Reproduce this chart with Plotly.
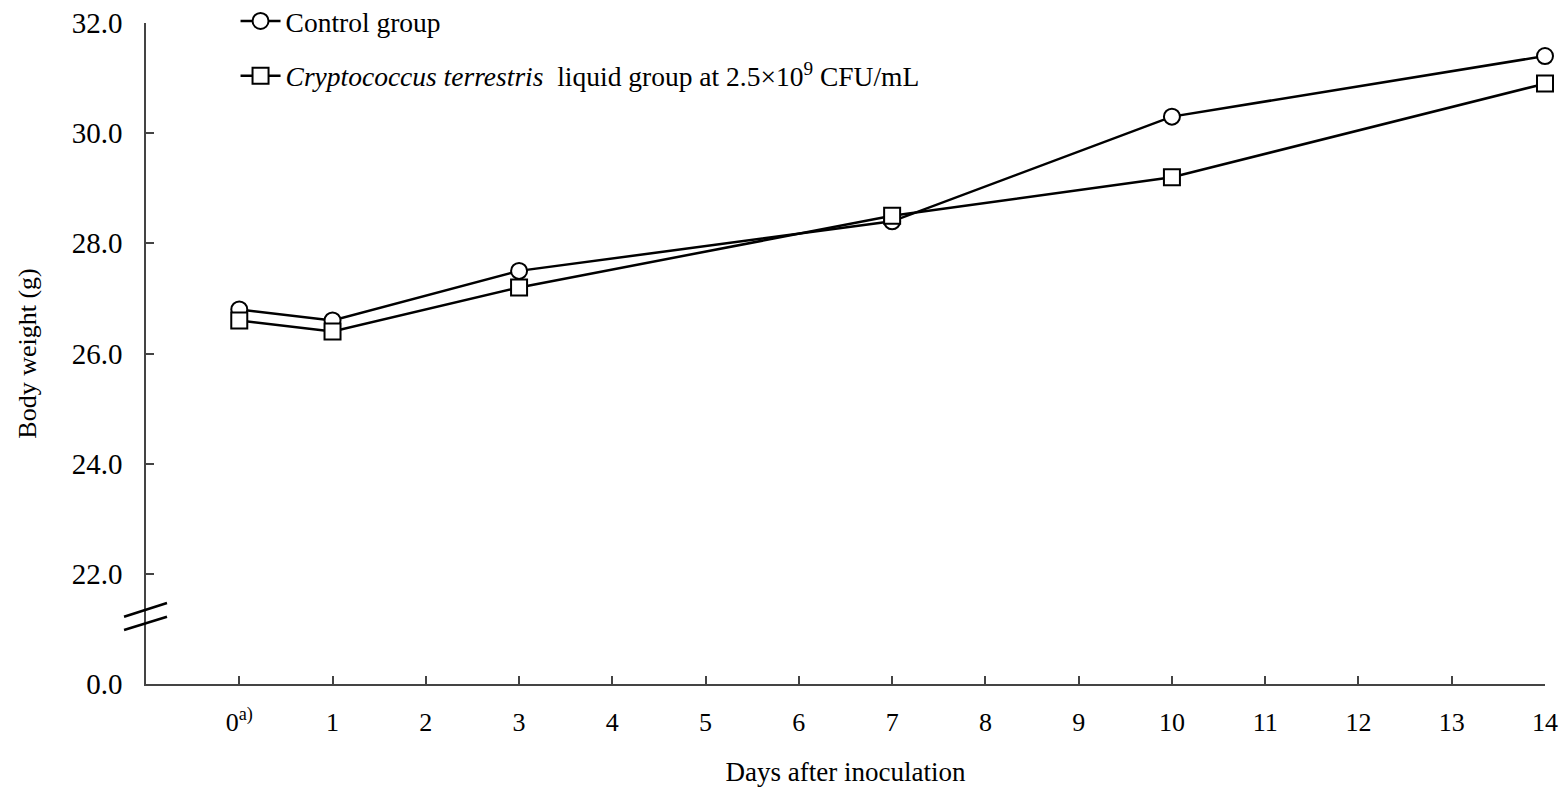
import plotly.graph_objects as go

days = [0, 1, 3, 7, 10, 14]
control = [26.8, 26.6, 27.5, 28.4, 30.3, 31.4]
treated = [26.6, 26.4, 27.2, 28.5, 29.2, 30.9]

x_ticks = list(range(0, 15))
x_ticktext = ["0<sup>a)</sup>"] + [str(i) for i in range(1, 15)]
y_ticks = [20, 22, 24, 26, 28, 30, 32]
y_ticktext = ["0.0", "22.0", "24.0", "26.0", "28.0", "30.0", "32.0"]

FONT = "Liberation Serif, Times New Roman, serif"

fig = go.Figure()
fig.add_trace(go.Scatter(
    x=days, y=control, mode="lines+markers", name="Control group",
    legendgroup="a",
    line=dict(color="black", width=2.5),
    marker=dict(symbol="circle", size=16, color="white", line=dict(color="black", width=2)),
    cliponaxis=False,
))
fig.add_trace(go.Scatter(
    x=days, y=treated, mode="lines+markers",
    name="<i>Cryptococcus terrestris</i>  liquid group at 2.5×10<sup>9</sup> CFU/mL",
    legendgroup="b",
    line=dict(color="black", width=2.5),
    marker=dict(symbol="square", size=16, color="white", line=dict(color="black", width=2)),
    cliponaxis=False,
))

# axis break marks
for y0, y1 in [(21.22, 21.47), (20.98, 21.22)]:
    fig.add_shape(type="line", xref="paper", yref="y",
                  x0=-0.0157, x1=0.015, y0=y0, y1=y1,
                  line=dict(color="black", width=2.5))

fig.update_layout(
    width=1567, height=787,
    margin=dict(l=146, r=22, t=23, b=103, autoexpand=False),
    plot_bgcolor="white", paper_bgcolor="white",
    font=dict(family=FONT, size=26, color="black"),
    showlegend=True,
    legend=dict(x=0.064, y=1.04, xanchor="left", yanchor="top",
                bgcolor="rgba(0,0,0,0)", traceorder="grouped",
                tracegroupgap=16, font=dict(size=27.5), itemwidth=40),
    xaxis=dict(
        range=[-1, 14], tickmode="array", tickvals=x_ticks, ticktext=x_ticktext,
        showline=True, linecolor="#444", linewidth=1.5,
        ticks="inside", ticklen=8, tickcolor="#444", tickwidth=1.5,
        showgrid=False, zeroline=False, ticklabelstandoff=14, automargin=False,
        title=dict(text="Days after inoculation", standoff=36, font=dict(size=27)),
        tickfont=dict(size=26),
    ),
    yaxis=dict(
        range=[20, 32], tickmode="array", tickvals=y_ticks, ticktext=y_ticktext,
        showline=True, linecolor="#444", linewidth=1.5,
        ticks="inside", ticklen=8, tickcolor="#444", tickwidth=1.5,
        showgrid=False, zeroline=False, ticklabelstandoff=16, automargin=False,
        title=dict(text="Body weight (g)", standoff=28, font=dict(size=26)),
        tickfont=dict(size=29),
    ),
)

fig.write_html("out.html")
